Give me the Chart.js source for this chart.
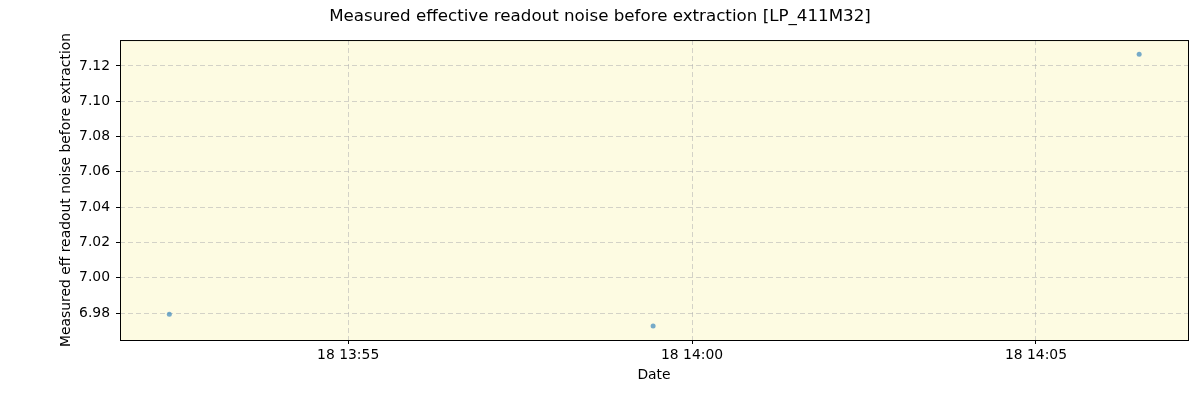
<!DOCTYPE html>
<html>
<head>
<meta charset="utf-8">
<script src="https://cdn.jsdelivr.net/npm/chart.js@4/dist/chart.umd.min.js"></script>
<style>
  html, body { margin: 0; padding: 0; background: #ffffff; }
  #wrap { width: 1200px; height: 400px; }
</style>
</head>
<body>
<div id="wrap"><canvas id="myChart" width="1200" height="400"></canvas></div>
<script>
// data (times on 18th, HH:MM:SS)
const times = ["13:52:24", "13:59:26", "14:06:30"];
const noise = [6.9793, 6.9726, 7.1267];
const xTickLabels = ["13:55", "14:00", "14:05"];
const yTicks = [6.98, 7.0, 7.02, 7.04, 7.06, 7.08, 7.1, 7.12];

// minutes since midnight
const toMin = (s) => {
  const p = s.split(":").map(Number);
  return p[0] * 60 + p[1] + (p[2] || 0) / 60;
};

const points = times.map((t, i) => ({ x: toMin(t), y: noise[i] }));
const xTicks = xTickLabels.map(toMin);

const pad2 = (n) => String(n).padStart(2, "0");
const fmtTime = (v) => {
  const m = Math.round(v);
  return "18 " + pad2(Math.floor(m / 60)) + ":" + pad2(m % 60);
};

const font = "'DejaVu Sans', sans-serif";
const gridColor = "rgba(176, 176, 176, 0.55)";

// paint the plot area background and frame
const plotBg = {
  id: "plotBg",
  beforeDraw(chart) {
    const { ctx, chartArea: a } = chart;
    ctx.save();
    ctx.fillStyle = "#fdfbe2";
    ctx.fillRect(a.left, a.top, a.right - a.left, a.bottom - a.top);
    ctx.restore();
  },
  afterDraw(chart) {
    const { ctx, chartArea: a } = chart;
    ctx.save();
    ctx.strokeStyle = "#000000";
    ctx.lineWidth = 1;
    ctx.strokeRect(a.left + 0.5, a.top + 0.5, a.right - a.left, a.bottom - a.top);
    ctx.restore();
  },
};

const ctx = document.getElementById("myChart").getContext("2d");
const myChart = new Chart(ctx, {
  type: "scatter",
  data: {
    datasets: [
      {
        data: points,
        pointRadius: 2.5,
        pointHoverRadius: 2.5,
        pointBackgroundColor: "rgba(60, 135, 190, 0.7)",
        pointBorderColor: "rgba(60, 135, 190, 0.7)",
        pointBorderWidth: 0,
      },
    ],
  },
  options: {
    responsive: false,
    animation: false,
    layout: { padding: 0 },
    scales: {
      x: {
        type: "linear",
        min: 831.683,
        max: 847.21,
        afterBuildTicks: (scale) => {
          scale.ticks = xTicks.map((v) => ({ value: v }));
        },
        afterFit: (scale) => {
          scale.height = 60;
        },
        ticks: {
          callback: (v) => fmtTime(v),
          color: "#000000",
          font: { family: font, size: 13.9 },
          maxRotation: 0,
          padding: 3,
        },
        grid: {
          color: gridColor,
          tickColor: "#000000",
          tickLength: 4,
        },
        border: { display: false, dash: [5, 3] },
        title: {
          display: true,
          text: "Date",
          color: "#000000",
          font: { family: font, size: 13.9 },
          padding: { top: 0, bottom: 16.6 },
        },
      },
      y: {
        min: 6.9647,
        max: 7.1347,
        afterBuildTicks: (scale) => {
          scale.ticks = yTicks.map((v) => ({ value: v }));
        },
        afterFit: (scale) => {
          scale.width = 120;
        },
        ticks: {
          callback: (v) => v.toFixed(2),
          color: "#000000",
          font: { family: font, size: 13.9 },
          padding: 6,
        },
        grid: {
          color: gridColor,
          tickColor: "#000000",
          tickLength: 4,
        },
        border: { display: false, dash: [5, 3] },
        title: {
          display: true,
          text: "Measured eff readout noise before extraction",
          color: "#000000",
          font: { family: font, size: 13.9 },
          padding: { top: 57.6, bottom: 0 },
        },
      },
      yRight: {
        position: "right",
        display: true,
        afterFit: (scale) => {
          scale.width = 12;
        },
        ticks: { display: false },
        grid: { display: false },
        border: { display: false },
      },
    },
    plugins: {
      legend: { display: false },
      tooltip: { enabled: false },
      title: {
        display: true,
        text: "Measured effective readout noise before extraction [LP_411M32]",
        color: "#000000",
        font: { family: font, size: 16.7, weight: "normal" },
        padding: { top: 7, bottom: 13 },
      },
    },
  },
  plugins: [plotBg],
});
</script>
</body>
</html>
